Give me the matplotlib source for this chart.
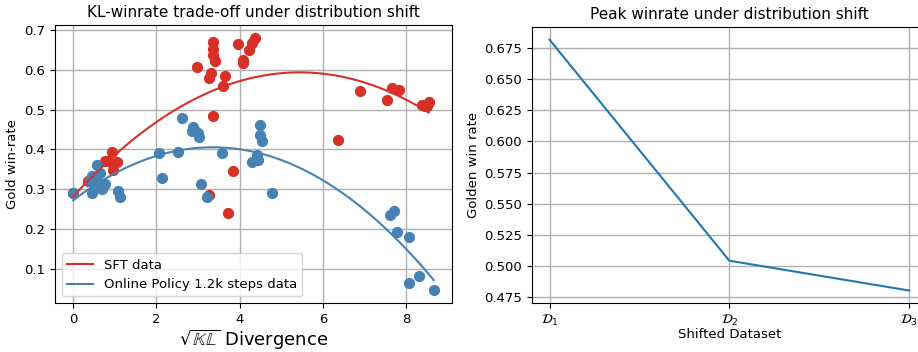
import numpy as np
import matplotlib
matplotlib.use("Agg")
import matplotlib.pyplot as plt

# ---- Data: left panel (sqrt KL vs gold win-rate) ----
sft_x = [0.0, 0.36, 0.77, 0.84, 0.94, 0.96, 1.05, 0.55,
         2.97, 3.36, 3.36, 3.36, 3.40, 3.31, 3.26, 3.65, 3.60,
         3.96, 4.08, 4.08, 4.22, 4.29, 4.36,
         3.36, 3.84, 3.72, 3.26,
         6.36, 6.90, 7.53, 7.67, 7.84, 8.37, 8.45, 8.54, 8.50]
sft_y = [0.290, 0.320, 0.371, 0.371, 0.394, 0.348, 0.368, 0.330,
         0.607, 0.670, 0.652, 0.637, 0.621, 0.591, 0.578, 0.584, 0.558,
         0.664, 0.624, 0.616, 0.649, 0.667, 0.680,
         0.485, 0.346, 0.242, 0.287,
         0.424, 0.546, 0.523, 0.553, 0.548, 0.512, 0.510, 0.520, 0.508]

online_x = [0.0, 0.46, 0.58, 0.60, 0.46, 0.77, 1.08, 1.13, 0.70, 0.50, 0.40, 0.65,
            2.61, 2.88, 2.93, 3.00, 3.02, 2.85,
            4.48, 4.50, 4.53, 2.06, 2.52, 3.57, 4.29, 4.41, 4.44,
            2.13, 3.07, 3.21, 4.77,
            7.60, 7.70, 7.77, 8.06, 8.06, 8.32, 8.66]
online_y = [0.292, 0.333, 0.361, 0.318, 0.292, 0.313, 0.295, 0.282, 0.300, 0.310, 0.320, 0.340,
            0.480, 0.457, 0.447, 0.440, 0.432, 0.447,
            0.462, 0.437, 0.422, 0.391, 0.394, 0.391, 0.368, 0.386, 0.373,
            0.328, 0.313, 0.280, 0.290,
            0.237, 0.245, 0.194, 0.181, 0.065, 0.082, 0.047]

series_labels = ["SFT data", "Online Policy 1.2k steps data"]

# ---- Data: right panel ----
datasets = [r"$\mathcal{D}_1$", r"$\mathcal{D}_2$", r"$\mathcal{D}_3$"]
peak_winrate = [0.682, 0.504, 0.480]

RED = "#d73027"
BLUE = "#4682b4"

plt.rcParams["xtick.labelsize"] = 9.5
plt.rcParams["ytick.labelsize"] = 9.5

fig = plt.figure(figsize=(9.18, 3.52), dpi=100)
ax1 = fig.add_axes([0.060, 0.139, 0.432, 0.790])
ax2 = fig.add_axes([0.579, 0.139, 0.431, 0.784])

for xs, ys, col, lab in [(sft_x, sft_y, RED, series_labels[0]),
                         (online_x, online_y, BLUE, series_labels[1])]:
    xs = np.asarray(xs); ys = np.asarray(ys)
    ax1.scatter(xs, ys, s=50, color=col, zorder=3)
    coef = np.polyfit(xs, ys, 2)
    xx = np.linspace(xs.min(), xs.max(), 200)
    ax1.plot(xx, np.polyval(coef, xx), color=col, lw=1.5, label=lab, zorder=4)

ax1.set_title("KL-winrate trade-off under distribution shift", fontsize=11)
ax1.set_xlabel(r"$\sqrt{\mathbb{KL}}$ Divergence", fontsize=13, labelpad=1.5)
ax1.set_ylabel("Gold win-rate", fontsize=9.5)
ax1.grid(True, color="#b0b0b0", lw=1.0)
ax1.set_axisbelow(True)
ax1.legend(loc="lower left", fontsize=9.5)

xpos = np.arange(len(datasets))
ax2.plot(xpos, peak_winrate, color="#1f77b4", lw=1.5)
ax2.set_xticks(xpos)
ax2.set_xticklabels(datasets)
ax2.set_xlim(-0.1, 2.1)
ax2.set_title("Peak winrate under distribution shift", fontsize=11)
ax2.set_xlabel("Shifted Dataset", fontsize=9.5, labelpad=0)
ax2.set_ylabel("Golden win rate", fontsize=9.5, labelpad=3)
ax2.grid(True, color="#b0b0b0", lw=1.0)

fig.savefig("out.png", dpi=100)
